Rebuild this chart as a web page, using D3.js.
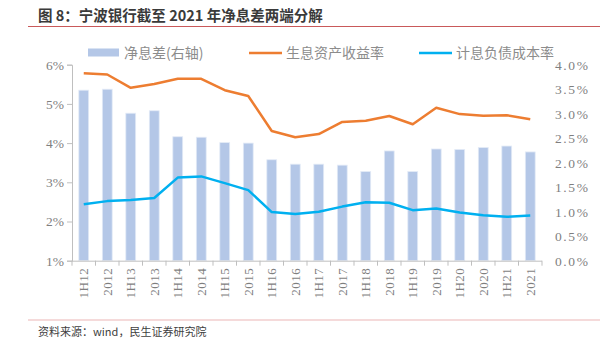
<!DOCTYPE html>
<html>
<head>
<meta charset="utf-8">
<script src="https://cdn.jsdelivr.net/npm/d3@7"></script>
<style>
  body { margin: 0; background: #fff; }
  svg { display: block; }
</style>
</head>
<body>
<svg id="chart" width="615" height="354"></svg>
<script>
// 数据
const periods = ["1H12","2012","1H13","2013","1H14","2014","1H15","2015","1H16","2016",
                 "1H17","2017","1H18","2018","1H19","2019","1H20","2020","1H21","2021"];
const nim = [3.48,3.50,3.01,3.06,2.53,2.52,2.41,2.40,2.06,1.97,
             1.97,1.95,1.82,2.24,1.82,2.28,2.27,2.31,2.34,2.22];
const assetYield = [5.78,5.75,5.41,5.51,5.64,5.64,5.35,5.20,4.31,4.15,
                    4.23,4.54,4.57,4.69,4.48,4.90,4.74,4.70,4.71,4.61];
const liabCost = [2.44,2.52,2.55,2.60,3.12,3.15,2.98,2.80,2.24,2.19,
                  2.25,2.38,2.49,2.48,2.29,2.33,2.23,2.16,2.12,2.15];
const leftTicks = [1,2,3,4,5,6];
const rightTicks = [0,0.5,1,1.5,2,2.5,3,3.5,4];
const legendNames = ["净息差(右轴)","生息资产收益率","计息负债成本率"];

const svg = d3.select("#chart");
const plotL = 72, plotR = 542, plotT = 64.7, plotB = 260.7;

// 比例尺
const x = d3.scaleBand().domain(periods).range([plotL, plotR]);
const yL = d3.scaleLinear().domain([1, 6]).range([plotB, plotT]);
const yR = d3.scaleLinear().domain([0, 4]).range([plotB, plotT]);

// 标题
svg.append("text")
  .attr("x", 38).attr("y", 21)
  .attr("font-family", "Noto Sans CJK SC")
  .attr("font-weight", "bold")
  .attr("font-size", 14.5)
  .attr("fill", "#3a3a3a")
  .text("图 8：宁波银行截至 2021 年净息差两端分解");
svg.append("line")
  .attr("x1", 28).attr("x2", 600).attr("y1", 26.5).attr("y2", 26.5)
  .attr("stroke", "#c9595a").attr("stroke-width", 1);

// 柱子
svg.append("g").selectAll("rect")
  .data(periods)
  .join("rect")
  .attr("x", (d) => x(d) + x.bandwidth() * 0.29)
  .attr("width", x.bandwidth() * 0.42)
  .attr("y", (d, i) => yR(nim[i]))
  .attr("height", (d, i) => plotB - yR(nim[i]))
  .attr("fill", "#b4c7e7")
  .attr("stroke", "#e4ebf7")
  .attr("stroke-width", 0.8);

// 折线
const line = d3.line()
  .x((d, i) => x(periods[i]) + x.bandwidth() / 2)
  .y((d) => yL(d));

svg.append("path")
  .attr("d", line(assetYield))
  .attr("fill", "none")
  .attr("stroke", "#ed7d31")
  .attr("stroke-width", 2.5)
  .attr("stroke-linejoin", "round");

svg.append("path")
  .attr("d", line(liabCost))
  .attr("fill", "none")
  .attr("stroke", "#00b0f0")
  .attr("stroke-width", 2.5)
  .attr("stroke-linejoin", "round");

// 坐标轴
const axisColor = "#bfbfbf";
const gL = svg.append("g")
  .attr("transform", `translate(${plotL},0)`)
  .call(d3.axisLeft(yL).tickValues(leftTicks).tickFormat((d) => d + "%").tickSize(5).tickPadding(3));
gL.select(".domain").attr("stroke", axisColor);
gL.selectAll("line").attr("stroke", axisColor);
gL.selectAll("text")
  .attr("font-family", "Liberation Serif")
  .attr("font-size", 13.5)
  .attr("fill", "#7f7f7f");

const gR = svg.append("g")
  .attr("transform", `translate(${plotR + 13},0)`)
  .call(d3.axisRight(yR).tickValues(rightTicks).tickFormat(d3.format(".1f")).tickSize(0).tickPadding(0));
gR.select(".domain").remove();
gR.selectAll("text")
  .text((d) => d3.format(".1f")(d) + "%")
  .attr("font-family", "Liberation Serif")
  .attr("font-size", 13.5)
  .attr("letter-spacing", 1.6)
  .attr("fill", "#7f7f7f");

const gB = svg.append("g")
  .attr("transform", `translate(0,${plotB})`)
  .call(d3.axisBottom(x).tickSize(0).tickPadding(0));
gB.select(".domain").attr("stroke", axisColor).attr("d", `M${plotL},0.5H${plotR}`);
gB.selectAll(".tick text")
  .attr("transform", "rotate(-90)")
  .attr("text-anchor", "end")
  .attr("x", -7)
  .attr("y", 0)
  .attr("dy", "0.35em")
  .attr("font-family", "Liberation Serif")
  .attr("font-size", 13)
  .attr("letter-spacing", 0.5)
  .attr("fill", "#7f7f7f");
// 类别分隔刻度
gB.append("g").selectAll("line")
  .data(periods.concat(["end"]))
  .join("line")
  .attr("x1", (d, i) => plotL + i * x.step())
  .attr("x2", (d, i) => plotL + i * x.step())
  .attr("y1", 0).attr("y2", 5)
  .attr("stroke", axisColor);

// 图例
const legend = svg.append("g").attr("font-family", "Noto Sans CJK SC").attr("font-size", 14).attr("fill", "#8c8c8c");
const legendX = [88, 249, 419];
legend.append("rect").attr("x", legendX[0]).attr("y", 48.5).attr("width", 31).attr("height", 8).attr("fill", "#b4c7e7");
legend.append("line").attr("x1", legendX[1]).attr("x2", legendX[1] + 33).attr("y1", 53).attr("y2", 53)
  .attr("stroke", "#ed7d31").attr("stroke-width", 2.5);
legend.append("line").attr("x1", legendX[2]).attr("x2", legendX[2] + 33).attr("y1", 53).attr("y2", 53)
  .attr("stroke", "#00b0f0").attr("stroke-width", 2.5);
legend.selectAll("text.lg")
  .data(legendNames)
  .join("text")
  .attr("class", "lg")
  .attr("x", (d, i) => legendX[i] + (i === 0 ? 36 : 37))
  .attr("y", 53)
  .attr("dy", "0.36em")
  .text((d) => d);

// 来源
svg.append("line")
  .attr("x1", 28).attr("x2", 600).attr("y1", 320).attr("y2", 320)
  .attr("stroke", "#ebb5b5").attr("stroke-width", 1.2);
svg.append("text")
  .attr("x", 38).attr("y", 336)
  .attr("font-family", "Noto Sans CJK SC")
  .attr("font-size", 11)
  .attr("fill", "#404040")
  .text("资料来源：wind，民生证券研究院");
</script>
</body>
</html>
